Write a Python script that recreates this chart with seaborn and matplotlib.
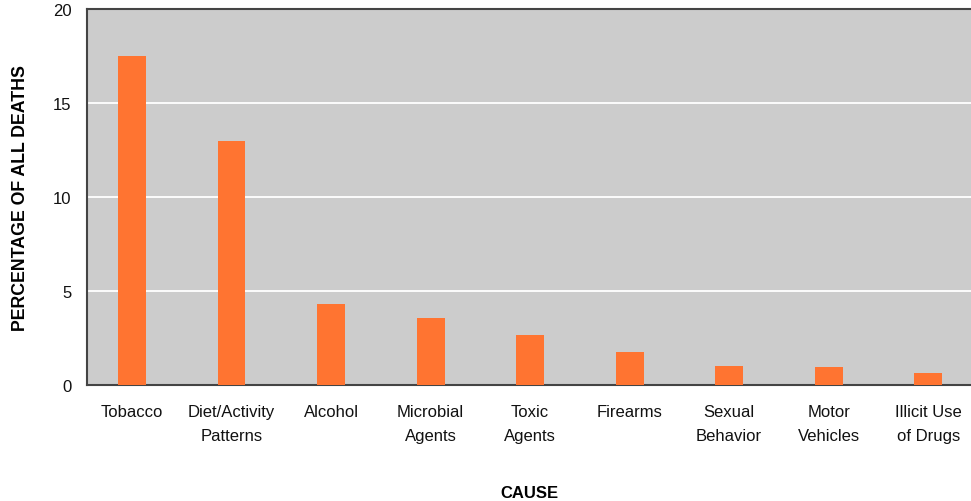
import matplotlib
matplotlib.use("Agg")
import matplotlib.pyplot as plt
import seaborn as sns
import pandas as pd

# Leading causes of death, share of all deaths (%)
causes = [
    "Tobacco",
    "Diet/Activity\nPatterns",
    "Alcohol",
    "Microbial\nAgents",
    "Toxic\nAgents",
    "Firearms",
    "Sexual\nBehavior",
    "Motor\nVehicles",
    "Illicit Use\nof Drugs",
]
percent_of_deaths = [17.5, 13.0, 4.3, 3.55, 2.65, 1.75, 1.0, 0.97, 0.62]
y_ticks = [0, 5, 10, 15, 20]

df = pd.DataFrame({"cause": causes, "percent": percent_of_deaths})

sns.set_theme(style="white")
plt.rcParams["font.family"] = ["Liberation Sans", "DejaVu Sans"]

fig = plt.figure(figsize=(9.71, 5.02), dpi=100)
ax = fig.add_axes([87 / 971, 1 - 386 / 502, 1 - 87 / 971, (386 - 10) / 502])
ax.set_facecolor("#cccccc")

sns.barplot(data=df, x="cause", y="percent", color="#ff7431", saturation=1,
            width=0.28, linewidth=0, ax=ax, zorder=3)

ax.set_ylim(0, 20)
ax.set_yticks(y_ticks)
ax.set_xlim(-0.452, 8.43)
ax.yaxis.grid(True, color="white", linewidth=1.3, zorder=1)
ax.set_axisbelow(True)

for side in ("left", "top", "bottom"):
    ax.spines[side].set_visible(True)
    ax.spines[side].set_color("#444444")
    ax.spines[side].set_linewidth(1.5)
ax.spines["right"].set_visible(False)

ax.tick_params(axis="both", length=0, labelsize=12, colors="#111111")
ax.tick_params(axis="y", pad=11)
ax.tick_params(axis="x", pad=14)
for lbl in ax.get_xticklabels():
    lbl.set_linespacing(1.75)
    lbl.set_verticalalignment("top")

ax.set_xlabel("CAUSE", fontsize=12, fontweight="bold", labelpad=30, color="black")
ax.set_ylabel("PERCENTAGE OF ALL DEATHS", fontsize=12.8, fontweight="bold",
              labelpad=17, color="black")

fig.savefig("out.png", dpi=100)
